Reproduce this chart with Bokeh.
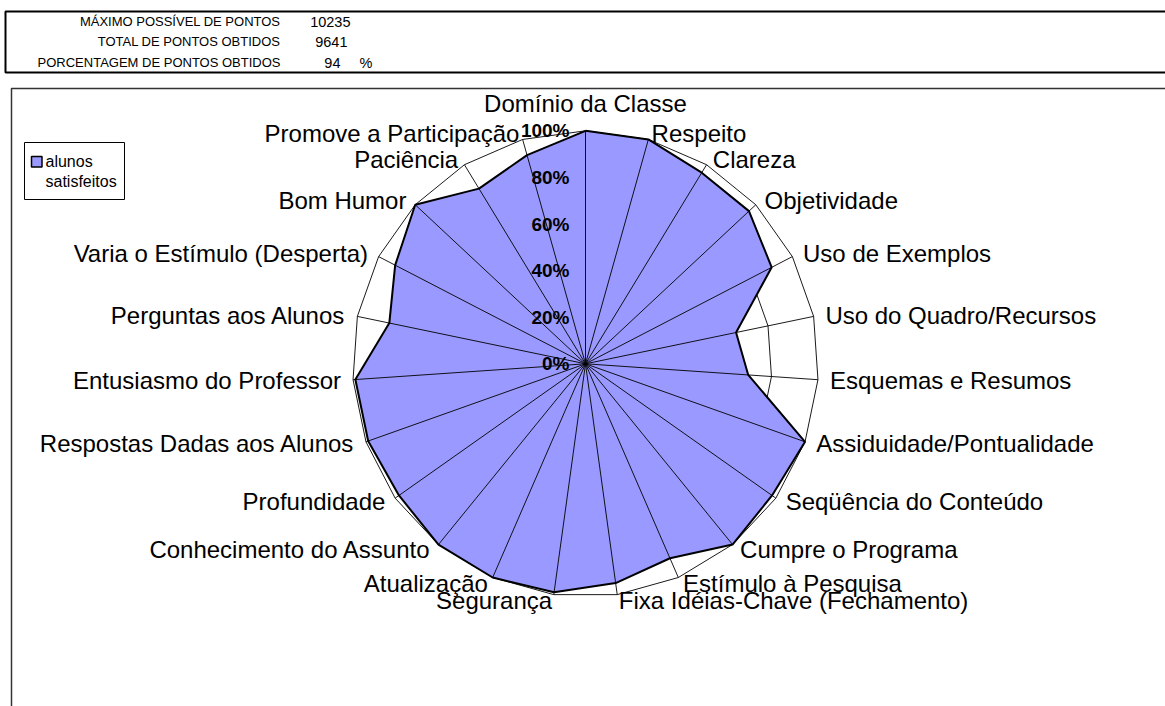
import numpy as np
from bokeh.plotting import figure
from bokeh.models import Range1d, ColumnDataSource
from bokeh.core.properties import value
from bokeh.embed import file_html
from bokeh.resources import INLINE

# ---------------- data ----------------
categories = [
    "Domínio da Classe", "Respeito", "Clareza", "Objetividade", "Uso de Exemplos",
    "Uso do Quadro/Recursos", "Esquemas e Resumos", "Assiduidade/Pontualidade",
    "Seqüência do Conteúdo", "Cumpre o Programa", "Estímulo à Pesquisa",
    "Fixa Idéias-Chave (Fechamento)", "Segurança", "Atualização",
    "Conhecimento do Assunto", "Profundidade", "Respostas Dadas aos Alunos",
    "Entusiasmo do Professor", "Perguntas aos Alunos", "Varia o Estímulo (Desperta)",
    "Bom Humor", "Paciência", "Promove a Participação",
]
satisfeitos = [100, 100, 96, 96, 90, 66, 70, 100, 98, 100, 91, 95,
               99, 100, 100, 98, 99, 99, 86, 92, 100, 88, 93]
ring_levels = [0, 20, 40, 60, 80, 100]
ring_labels = ["0%", "20%", "40%", "60%", "80%", "100%"]
series_name = ["alunos", "satisfeitos"]
header_labels = ["MÁXIMO POSSÍVEL DE PONTOS", "TOTAL DE PONTOS OBTIDOS",
                 "PORCENTAGEM DE PONTOS OBTIDOS"]
header_values = ["10235", "9641", "94"]

FONT = "Liberation Sans"
FILL = "#9999FF"

W, H = 1165, 706
p = figure(width=W, height=H, output_backend="svg", toolbar_location=None,
           x_range=Range1d(0, W), y_range=Range1d(H, 0),
           min_border=0, background_fill_color="white", border_fill_color="white")
p.axis.visible = False
p.grid.visible = False
p.outline_line_color = None

# ---------------- frames ----------------
p.line([1165, 5, 5, 1165], [11, 11, 72, 72], line_color="black", line_width=2)
p.line([1165, 11, 11], [88, 88, 706], line_color="#333333", line_width=1.5)

# ---------------- header ----------------
hy = [21, 41, 62]
p.text(x=[280] * 3, y=hy, text=header_labels, text_align="right",
       text_baseline="middle", text_font=value(FONT), text_font_size="13px",
       text_color="black")
p.text(x=[350, 347, 340], y=hy, text=header_values, text_align="right",
       text_baseline="middle", text_font=value(FONT), text_font_size="14.5px",
       text_color="black")
p.text(x=[372], y=[62], text=["%"], text_align="right", text_baseline="middle",
       text_font=value(FONT), text_font_size="14.5px", text_color="black")

# ---------------- radar ----------------
cx, cy, R = 585.0, 363.3, 233.0
n = len(categories)
theta = np.arange(n) * 2 * np.pi / n
st, ct = np.sin(theta), np.cos(theta)

def ring(level):
    r = R * level / 100.0
    xs = list(cx + r * st) + [cx + r * st[0]]
    ys = list(cy - r * ct) + [cy - r * ct[0]]
    return xs, ys

# rings (under fill)
rx, ry = [], []
for lv in ring_levels[1:]:
    a, b = ring(lv)
    rx.append(a)
    ry.append(b)
p.multi_line(rx, ry, line_color="black", line_width=0.9)

vals = np.array(satisfeitos, dtype=float)
px = cx + R * vals / 100.0 * st
py = cy - R * vals / 100.0 * ct
p.patch(list(px), list(py), fill_color=FILL, line_color=None)

# spokes
p.multi_line([[cx, cx + R * s] for s in st], [[cy, cy - R * c] for c in ct],
             line_color="black", line_width=0.9)

# data outline
p.line(list(px) + [px[0]], list(py) + [py[0]], line_color="black", line_width=2)

# category labels
lx, ly, la = [], [], []
for s, c in zip(st, ct):
    if abs(s) < 1e-6:
        lx.append(cx); ly.append(cy - (R + 27)); la.append("center")
    else:
        lx.append(cx + 245 * s)
        ly.append(cy - 239 * c)
        la.append("left" if s > 0 else "right")
src = ColumnDataSource(dict(x=lx, y=ly, t=categories, a=la))
p.text(x="x", y="y", text="t", text_align="a", text_baseline="middle", source=src,
       text_font=value(FONT), text_font_size="24px", text_color="black")

# percent labels
p.text(x=[569] * len(ring_levels), y=[cy - R * lv / 100.0 for lv in ring_levels],
       text=ring_labels, text_align="right", text_baseline="middle",
       text_font=value(FONT), text_font_size="19px", text_font_style="bold",
       text_color="black")

# ---------------- legend ----------------
p.quad(left=[24], right=[124], top=[142], bottom=[199], fill_color="white",
       line_color="black", line_width=1)
p.quad(left=[31], right=[41.5], top=[156], bottom=[166.5], fill_color=FILL,
       line_color="black", line_width=1.5)
p.text(x=[45, 45], y=[161, 181], text=series_name, text_align="left",
       text_baseline="middle", text_font=value(FONT), text_font_size="16px",
       text_color="black")

open("out.html", "w").write(file_html(p, INLINE))
